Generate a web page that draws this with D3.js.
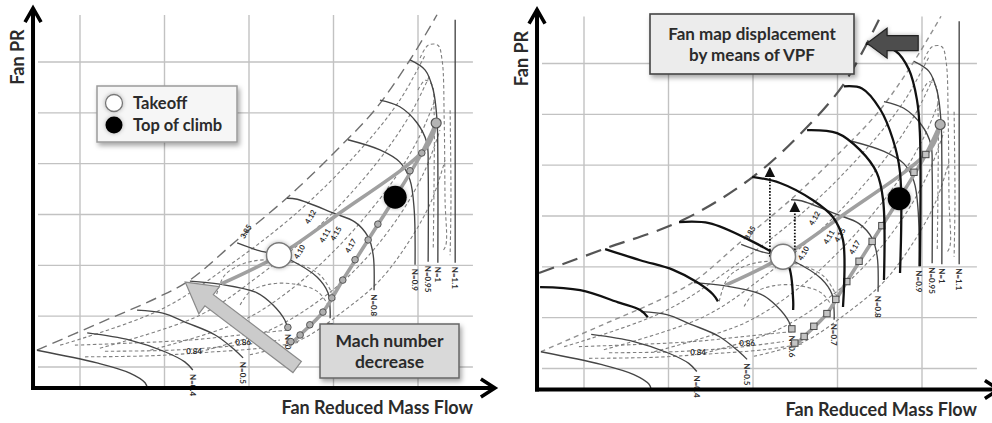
<!DOCTYPE html>
<html>
<head>
<meta charset="utf-8">
<script src="https://cdn.jsdelivr.net/npm/d3@7"></script>
<style>
  body { margin: 0; background: #fff; }
  svg { display: block; }
  text { font-family: Lato, "Open Sans", sans-serif; font-weight: 700; fill: #2b2b2b; }
</style>
</head>
<body>
<div id="chart"></div>
<script>
// grid positions (mass flow, PR)
const gridX = [20, 40, 60, 80, 100];
const gridY = [1.1, 1.2, 1.3, 1.4, 1.5, 1.6, 1.7];

// original fan map
const surgeBase = [[9.8,1.133],[24.7,1.187],[38.2,1.236],[46.0,1.271],[57.2,1.350],[69.7,1.438],[80.8,1.527],[89.8,1.606],[98.1,1.704],[104.5,1.793]];

const speedN11 = [[108.8,1.783],[108.8,1.305]];
const speedN1 = [[98.1,1.704],[101.7,1.684],[103.6,1.645],[104.5,1.586],[104.7,1.507],[104.7,1.305]];
const speedN095 = [[91.0,1.625],[95.7,1.612],[99.8,1.580],[102.1,1.541],[102.4,1.488],[102.4,1.307]];
const speedN09 = [[83.4,1.547],[91.0,1.527],[95.7,1.503],[98.1,1.468],[99.1,1.409],[99.3,1.301]];
const speedN08 = [[69.0,1.432],[71.4,1.430],[79.9,1.403],[85.1,1.385],[88.2,1.356],[89.4,1.320],[89.6,1.251]];
const speedN07 = [[57.2,1.344],[61.9,1.330],[66.9,1.320],[69.7,1.311],[76.1,1.277],[78.7,1.246],[79.2,1.212],[79.2,1.196]];
const speedN06 = [[46.0,1.269],[53.1,1.263],[61.9,1.246],[65.7,1.222],[68.5,1.192],[69.2,1.173]];
const speedN05 = [[33.5,1.212],[39.6,1.206],[45.3,1.187],[52.0,1.163],[56.7,1.133],[58.6,1.118]];
const speedN04 = [[21.7,1.167],[31.8,1.153],[40.1,1.130],[44.8,1.110],[46.7,1.094]];
const speedN03 = [[9.8,1.133],[24.0,1.108],[31.8,1.088],[35.4,1.069],[35.9,1.059]];
const speedLabels = ["N=1.1", "N=1", "N=0.95", "N=0.9", "N=0.8", "N=0.7", "N=0.6", "N=0.5", "N=0.4", ""];

// beta lines and efficiency contours (dashed)
const beta1 = [[15.3,1.143],[38.9,1.212],[55.5,1.301],[72.1,1.409],[86.3,1.527],[95.7,1.625],[101.7,1.714]];
const beta2 = [[24.7,1.137],[48.4,1.202],[62.6,1.281],[76.8,1.379],[89.8,1.497],[98.1,1.596],[102.8,1.674]];
const beta3 = [[36.6,1.133],[57.9,1.189],[69.7,1.251],[81.5,1.340],[93.4,1.458],[100.5,1.556],[104.0,1.625]];
const beta4 = [[48.4,1.130],[65.0,1.173],[76.8,1.232],[86.3,1.301],[95.7,1.399],[101.7,1.488],[105.2,1.566]];
const beta5 = [[60.2,1.124],[72.1,1.153],[82.7,1.212],[91.0,1.271],[98.1,1.350],[103.3,1.429],[106.4,1.507]];
const effTop1 = [[100.5,1.708],[102.4,1.733],[104.7,1.733],[105.7,1.704],[106.2,1.586],[106.4,1.429],[106.6,1.340],[105.7,1.326]];
const effTop2 = [[100.0,1.645],[101.7,1.664],[103.3,1.655],[103.8,1.605],[103.8,1.468],[103.6,1.330]];
const effTop3 = [[107.6,1.605],[107.8,1.429],[107.6,1.320]];
const effLow1 = [[18.8,1.143],[31.8,1.147],[46.0,1.153],[57.9,1.163],[69.7,1.173]];
const effLow2 = [[21.2,1.120],[36.6,1.122],[48.4,1.128],[62.6,1.137],[72.1,1.149]];
const effLow3 = [[25.9,1.131],[41.3,1.133],[55.5,1.141],[67.3,1.153]];
const effIsland1 = [[57.9,1.222],[60.2,1.248],[65.0,1.263],[70.9,1.263],[76.3,1.248],[78.7,1.222]];
const effIsland2 = [[52.0,1.232],[54.3,1.281],[60.2,1.307],[69.7,1.307],[76.8,1.281],[80.4,1.232]];

// operating lines
const opTakeoff = [[53.8,1.265],[67.1,1.320],[80.8,1.399],[102.1,1.533],[104.3,1.580]];
const opClimb = [[69.7,1.143],[72.1,1.163],[77.5,1.208],[82.2,1.271],[88.2,1.350],[94.6,1.434],[100.9,1.521],[104.3,1.580]];
const opMarkers = [[69.9,1.150],[69.2,1.178],[72.1,1.163],[74.4,1.183],[77.5,1.208],[79.6,1.236],[82.2,1.271],[85.1,1.311],[88.2,1.350],[90.5,1.381],[98.1,1.486],[100.9,1.521]];
const opTop = [104.3, 1.580];
const takeoffPt = [67.1, 1.320];
const tocPt = [94.6, 1.434];

// small value tags along the lines
const tagPts = [[59.8,1.364],[75.1,1.393],[78.5,1.356],[81.1,1.360],[72.5,1.324],[84.6,1.336]];
const tagText = ["3.85", "4.12", "4.11", "4.15", "4.10", "4.17"];
const lowTagPts = [[58.6,1.144],[47.0,1.126]];
const lowTagText = ["0.86", "0.84"];

// displaced map (VPF)
const surgeVPF = [[9.35,1.288],[24.7,1.335],[43.4,1.392],[60.0,1.477],[72.8,1.575],[81.5,1.660],[89.8,1.786]];
const vpf1 = [[86.7,1.739],[93.8,1.724],[96.9,1.688],[98.8,1.629],[99.5,1.564],[99.5,1.301]];
const vpf2 = [[81.5,1.655],[85.8,1.651],[90.1,1.610],[93.1,1.551],[94.8,1.486],[94.8,1.288]];
const vpf3 = [[72.8,1.569],[79.9,1.563],[85.3,1.530],[89.3,1.485],[90.8,1.431],[91.0,1.274]];
const vpf4 = [[59.8,1.477],[66.4,1.465],[74.2,1.431],[78.9,1.398],[81.3,1.353],[81.3,1.221]];
const vpf5 = [[42.5,1.388],[49.6,1.386],[59.1,1.353],[66.6,1.317],[68.5,1.300],[69.5,1.235],[69.5,1.215]];
const vpf6 = [[25.0,1.335],[33.3,1.313],[41.1,1.294],[46.7,1.270],[50.5,1.246],[51.7,1.232]];
const vpf7 = [[9.6,1.260],[19.1,1.254],[28.5,1.229],[33.3,1.215],[35.1,1.201]];
const liftArrows = [[[64.0,1.320],[64.0,1.495]], [[69.9,1.320],[69.9,1.427]]];

// annotation arrows
const machArrow = [[71.4,1.100],[44.9,1.267]];
const vpfArrow = [[99.1,1.740],[87.0,1.740]];

// axis extents
const xAxisEnd = [8.88, 118.2];
const yAxisEnd = [1.0587, 1.806];

const W = 992, H = 423;
const x = d3.scaleLinear().domain([20, 100]).range([80, 418]);
const y = d3.scaleLinear().domain([1.1, 1.7]).range([367, 62]);
const curve = d3.line().x(d => x(d[0])).y(d => y(d[1])).curve(d3.curveCatmullRom.alpha(0.5));
const straight = d3.line().x(d => x(d[0])).y(d => y(d[1]));

const svg = d3.select("#chart").append("svg").attr("width", W).attr("height", H);

const defs = svg.append("defs");
const shadow = defs.append("filter").attr("id", "shadow").attr("x", "-20%").attr("y", "-20%").attr("width", "140%").attr("height", "150%");
shadow.append("feDropShadow").attr("dx", 2).attr("dy", 3).attr("stdDeviation", 2.5).attr("flood-color", "#000").attr("flood-opacity", 0.35);
const soft = defs.append("filter").attr("id", "soft").attr("x", "-50%").attr("y", "-50%").attr("width", "200%").attr("height", "200%");
soft.append("feDropShadow").attr("dx", 0).attr("dy", 0).attr("stdDeviation", 2).attr("flood-color", "#000").attr("flood-opacity", 0.3);
defs.append("marker").attr("id", "tri").attr("viewBox", "0 0 10 10").attr("refX", 9).attr("refY", 5)
  .attr("markerWidth", 6).attr("markerHeight", 8).attr("orient", "auto")
  .append("path").attr("d", "M0,0 L10,5 L0,10 Z").attr("fill", "#111");

function arrowShape(from, to, shaft, head, headLen) {
  const x0 = x(from[0]), y0 = y(from[1]), x1 = x(to[0]), y1 = y(to[1]);
  const len = Math.hypot(x1 - x0, y1 - y0);
  const ux = (x1 - x0) / len, uy = (y1 - y0) / len;
  const nx = -uy, ny = ux;
  const bx = x1 - ux * headLen, by = y1 - uy * headLen;
  const p = [
    [x0 + nx * shaft / 2, y0 + ny * shaft / 2],
    [bx + nx * shaft / 2, by + ny * shaft / 2],
    [bx + nx * head / 2, by + ny * head / 2],
    [x1, y1],
    [bx - nx * head / 2, by - ny * head / 2],
    [bx - nx * shaft / 2, by - ny * shaft / 2],
    [x0 - nx * shaft / 2, y0 - ny * shaft / 2]
  ];
  return "M" + p.map(d => d.join(",")).join("L") + "Z";
}

function drawPanel(g, right) {
  // grid
  g.selectAll(".gx").data(gridX).join("line")
    .attr("x1", d => x(d)).attr("x2", d => x(d))
    .attr("y1", y(1.7925)).attr("y2", y(yAxisEnd[0]))
    .attr("stroke", "#c2c2c2").attr("stroke-width", 1.4);
  g.selectAll(".gy").data(gridY).join("line")
    .attr("x1", x(10.06)).attr("x2", x(113.0))
    .attr("y1", d => y(d)).attr("y2", d => y(d))
    .attr("stroke", "#c2c2c2").attr("stroke-width", 1.4);

  // dashed map lines
  const dashed = [beta1, beta2, beta3, beta4, beta5, effTop1, effTop2, effTop3, effLow1, effLow2, effLow3, effIsland1, effIsland2];
  g.selectAll(".dash").data(dashed).join("path")
    .attr("d", curve).attr("fill", "none")
    .attr("stroke", "#808080").attr("stroke-width", 1.1).attr("stroke-dasharray", "3.5,2.5");

  // original surge line
  g.append("path").attr("d", curve(surgeBase)).attr("fill", "none")
    .attr("stroke", right ? "#909090" : "#707070").attr("stroke-width", 1.4)
    .attr("stroke-dasharray", right ? "5,4" : "11,6");

  // speed lines
  const speeds = [speedN11, speedN1, speedN095, speedN09, speedN08, speedN07, speedN06, speedN05, speedN04, speedN03];
  g.selectAll(".spd").data(speeds).join("path")
    .attr("d", curve).attr("fill", "none")
    .attr("stroke", "#454545").attr("stroke-width", 1.35);
  g.selectAll(".spdlab").data(speeds).join("text")
    .attr("transform", d => { const e = d[d.length - 1]; return `translate(${x(e[0]) - 3},${y(e[1]) + 4}) rotate(90)`; })
    .attr("font-size", 8).attr("font-weight", 900).text((d, i) => speedLabels[i]);

  // operating lines
  [opTakeoff, opClimb].forEach(pts => {
    g.append("path").attr("d", curve(pts)).attr("fill", "none")
      .attr("stroke", "#a0a0a0").attr("stroke-width", 3.6).attr("stroke-linecap", "round");
  });
  if (right) {
    g.selectAll(".mk").data(opMarkers).join("rect")
      .attr("x", d => x(d[0]) - 3.2).attr("y", d => y(d[1]) - 3.2)
      .attr("width", 6.4).attr("height", 6.4)
      .attr("fill", "#c4c4c4").attr("stroke", "#4a4a4a").attr("stroke-width", 1);
  } else {
    g.selectAll(".mk").data(opMarkers).join("circle")
      .attr("cx", d => x(d[0])).attr("cy", d => y(d[1])).attr("r", 3.3)
      .attr("fill", "#b0b0b0").attr("stroke", "#555").attr("stroke-width", 1);
  }
  g.append("circle").attr("cx", x(opTop[0])).attr("cy", y(opTop[1])).attr("r", 5)
    .attr("fill", "#b4b4b4").attr("stroke", "#555").attr("stroke-width", 1.2);

  // small tags
  g.selectAll(".tag").data(tagPts).join("text")
    .attr("transform", d => `translate(${x(d[0])},${y(d[1])}) rotate(-60)`)
    .attr("text-anchor", "middle").attr("font-size", 7.5).attr("font-weight", 900).text((d, i) => tagText[i]);
  g.selectAll(".ltag").data(lowTagPts).join("text")
    .attr("x", d => x(d[0])).attr("y", d => y(d[1]))
    .attr("text-anchor", "middle").attr("font-size", 8).attr("font-weight", 900).text((d, i) => lowTagText[i]);

  if (right) {
    g.append("path").attr("d", curve(surgeVPF)).attr("fill", "none")
      .attr("stroke", "#555").attr("stroke-width", 2.2).attr("stroke-dasharray", "16,9");
    g.selectAll(".vpf").data([vpf1, vpf2, vpf3, vpf4, vpf5, vpf6, vpf7]).join("path")
      .attr("d", curve).attr("fill", "none")
      .attr("stroke", "#111").attr("stroke-width", 2.3);
    g.selectAll(".lift").data(liftArrows).join("path")
      .attr("d", straight).attr("fill", "none")
      .attr("stroke", "#111").attr("stroke-width", 1.8).attr("stroke-dasharray", "1.6,1.6")
      .attr("marker-end", "url(#tri)");
  }

  // operating points
  g.append("circle").attr("cx", x(takeoffPt[0])).attr("cy", y(takeoffPt[1])).attr("r", 12.5)
    .attr("fill", "#fff").attr("stroke", "#7a7a7a").attr("stroke-width", 1.5).attr("filter", "url(#soft)");
  g.append("circle").attr("cx", x(tocPt[0])).attr("cy", y(tocPt[1])).attr("r", 11.5)
    .attr("fill", "#050505").attr("filter", "url(#soft)");

  // axes
  const ax0 = x(xAxisEnd[0]), ax1 = x(xAxisEnd[1]), ay0 = y(yAxisEnd[0]), ay1 = y(yAxisEnd[1]);
  g.append("line").attr("x1", ax0).attr("x2", ax0).attr("y1", ay0 + 2).attr("y2", ay1)
    .attr("stroke", "#000").attr("stroke-width", 4);
  g.append("line").attr("x1", ax0 - 2).attr("x2", ax1).attr("y1", ay0).attr("y2", ay0)
    .attr("stroke", "#000").attr("stroke-width", 4);
  g.append("path").attr("d", `M${ax0 - 8},${ay1 + 14} L${ax0},${ay1} L${ax0 + 8},${ay1 + 14}`)
    .attr("fill", "none").attr("stroke", "#000").attr("stroke-width", 3.6);
  g.append("path").attr("d", `M${ax1 - 14},${ay0 - 9} L${ax1},${ay0} L${ax1 - 14},${ay0 + 9}`)
    .attr("fill", "none").attr("stroke", "#000").attr("stroke-width", 3.6);
  g.append("text").attr("transform", `translate(${ax0 - 9},57) rotate(-90)`)
    .attr("text-anchor", "middle").attr("font-size", 18).text("Fan PR");
  g.append("text").attr("x", 473).attr("y", 414)
    .attr("text-anchor", "end").attr("font-size", 18).text("Fan Reduced Mass Flow");
}

const left = svg.append("g");
drawPanel(left, false);
const rightG = svg.append("g").attr("transform", "translate(504,1.5)");
drawPanel(rightG, true);

// left annotations
left.append("path").attr("d", arrowShape(machArrow[0], machArrow[1], 14, 34, 30))
  .attr("fill", "#cbcbcb").attr("stroke", "#8a8a8a").attr("stroke-width", 1.2);

const legend = left.append("g").attr("transform", "translate(97,86)");
legend.append("rect").attr("width", 140).attr("height", 56)
  .attr("fill", "#f6f6f6").attr("stroke", "#9a9a9a").attr("stroke-width", 1.5).attr("filter", "url(#shadow)");
legend.append("circle").attr("cx", 17).attr("cy", 17).attr("r", 8.5)
  .attr("fill", "#fff").attr("stroke", "#777").attr("stroke-width", 1.3).attr("filter", "url(#soft)");
legend.append("circle").attr("cx", 17).attr("cy", 39).attr("r", 8.5)
  .attr("fill", "#050505").attr("filter", "url(#soft)");
legend.append("text").attr("x", 36).attr("y", 23).attr("font-size", 16.5).text("Takeoff");
legend.append("text").attr("x", 36).attr("y", 45).attr("font-size", 16.5).text("Top of climb");

const mach = left.append("g").attr("transform", "translate(320,324)");
mach.append("rect").attr("width", 139).attr("height", 54)
  .attr("fill", "#d9d9d9").attr("stroke", "#666").attr("stroke-width", 1.5).attr("filter", "url(#shadow)");
mach.append("text").attr("x", 69.5).attr("y", 23).attr("text-anchor", "middle").attr("font-size", 17.5).text("Mach number");
mach.append("text").attr("x", 69.5).attr("y", 44).attr("text-anchor", "middle").attr("font-size", 17.5).text("decrease");

// right annotations
const vbox = rightG.append("g").attr("transform", "translate(146,12.5)");
vbox.append("rect").attr("width", 204).attr("height", 60)
  .attr("fill", "#ececec").attr("stroke", "#444").attr("stroke-width", 1.6).attr("filter", "url(#shadow)");
vbox.append("text").attr("x", 102).attr("y", 26).attr("text-anchor", "middle").attr("font-size", 17).text("Fan map displacement");
vbox.append("text").attr("x", 102).attr("y", 47).attr("text-anchor", "middle").attr("font-size", 17).text("by means of VPF");

rightG.append("path").attr("d", arrowShape(vpfArrow[0], vpfArrow[1], 15, 30, 20))
  .attr("fill", "#4d4d4d").attr("stroke", "#222").attr("stroke-width", 1.2).attr("filter", "url(#soft)");
</script>
</body>
</html>
